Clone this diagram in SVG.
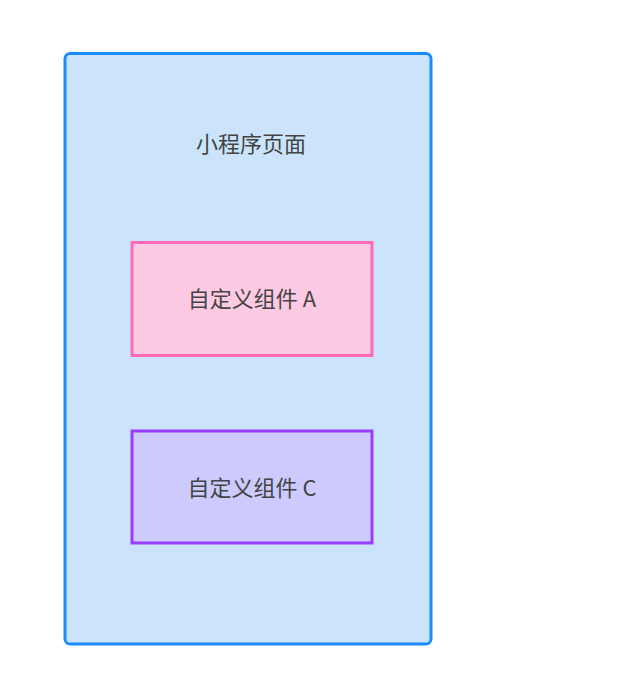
<svg xmlns="http://www.w3.org/2000/svg" width="641" height="674" viewBox="0 0 641 674">
<style>
text{font-family:"Noto Sans CJK SC","Liberation Sans",sans-serif;font-size:22px;fill:#444;text-anchor:middle;dominant-baseline:central}
.n{stroke-width:3}
</style>
<rect width="641" height="674" fill="#fff"/>
<g id="page">
<rect class="n" x="65" y="53.5" width="366" height="590.5" rx="5" fill="#cbe4fb" stroke="#1a8cff"/>
<text x="251" y="142">小程序页面</text>
</g>
<g id="compA">
<rect class="n" x="132" y="242.5" width="240" height="113" fill="#fdcae4" stroke="#ff6bb5"/>
<text x="252" y="297">自定义组件 A</text>
</g>
<g id="compC">
<rect class="n" x="132" y="431" width="240" height="112" fill="#cdcbfd" stroke="#9b3dff"/>
<text x="252" y="486">自定义组件 C</text>
</g>
<g id="connectors"></g>
</svg>
